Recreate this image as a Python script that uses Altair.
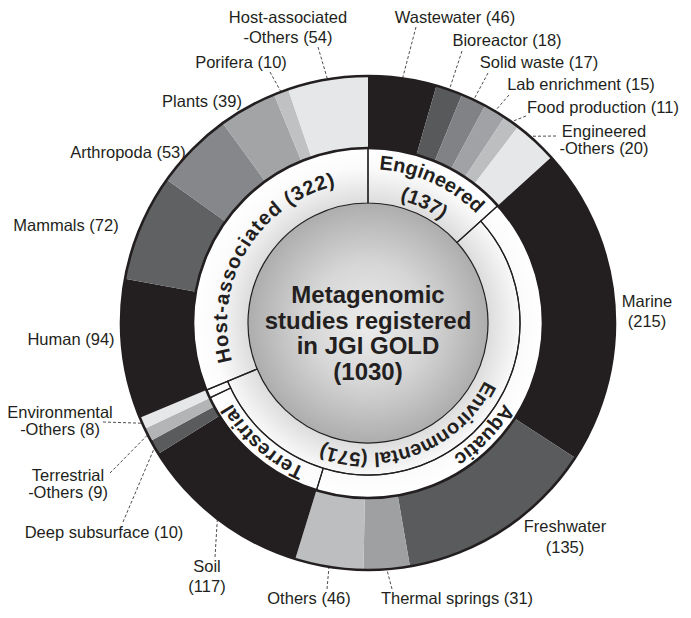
import math
import altair as alt
import pandas as pd

# ---------------- data ----------------
group_names = ["Engineered", "Environmental", "Host-associated"]
group_values = [137, 571, 322]

sub_names = ["Aquatic", "Terrestrial", "Environmental-Others"]   # parts of Environmental
sub_values = [427, 136, 8]

leaf_names = ["Wastewater", "Bioreactor", "Solid waste", "Lab enrichment", "Food production",
              "Engineered-Others", "Marine", "Freshwater", "Thermal springs", "Others",
              "Soil", "Deep subsurface", "Terrestrial-Others", "Environmental-Others",
              "Human", "Mammals", "Arthropoda", "Plants", "Porifera", "Host-associated-Others"]
leaf_values = [46, 18, 17, 15, 11, 20, 215, 135, 31, 46, 117, 10, 9, 8, 94, 72, 53, 39, 10, 54]
leaf_parents = (["Engineered"] * 6 + ["Aquatic"] * 4 + ["Terrestrial"] * 3 +
                ["Environmental-Others"] + ["Host-associated"] * 6)
leaf_display = ["Wastewater", "Bioreactor", "Solid waste", "Lab enrichment", "Food production",
                "Engineered\n-Others", "Marine\n", "Freshwater\n", "Thermal springs", "Others",
                "Soil\n", "Deep subsurface", "Terrestrial\n-Others", "Environmental\n-Others",
                "Human", "Mammals", "Arthropoda", "Plants", "Porifera", "Host-associated\n-Others"]
leaf_colors = ["#231f20", "#58595b", "#808285", "#a0a2a5", "#bcbec0", "#e6e7e8",
               "#231f20", "#5a5b5d", "#9fa0a2", "#bcbec0",
               "#231f20", "#5a5b5d", "#b3b4b6", "#e6e7e8",
               "#231f20", "#606163", "#86878a", "#a3a4a6", "#c0c1c3", "#e6e7e8"]

center_title = "Metagenomic\nstudies registered\nin JGI GOLD"

# ---------------- layout ----------------
BLACK = "#231f20"
FONT = "Liberation Sans"
CX, CY = 360, 315            # centre of the sunburst (view px)
R_CORE, R_SPLIT, R_IN, R_OUT = 120, 152, 175, 247
TOTAL = sum(group_values)
TH = alt.Scale(domain=[0, TOTAL], range=[0, 2 * math.pi])

gv = dict(zip(group_names, group_values))
parent_order = [("Engineered", gv["Engineered"])] + list(zip(sub_names, sub_values)) + \
               [("Host-associated", gv["Host-associated"])]
spans = {}
acc = 0
for n, v in parent_order:
    spans[n] = (acc, acc + v)
    acc += v
env_span = (spans["Aquatic"][0], spans["Environmental-Others"][1])

# inner ring cells
cells = [
    dict(name="Engineered", t0=spans["Engineered"][0], t1=spans["Engineered"][1], ri=R_CORE, ro=R_IN),
    dict(name="Environmental", t0=env_span[0], t1=env_span[1], ri=R_CORE, ro=R_SPLIT),
    dict(name="Aquatic", t0=spans["Aquatic"][0], t1=spans["Aquatic"][1], ri=R_SPLIT, ro=R_IN),
    dict(name="Terrestrial", t0=spans["Terrestrial"][0], t1=spans["Terrestrial"][1], ri=R_SPLIT, ro=R_IN),
    dict(name="Environmental-Others", t0=spans["Environmental-Others"][0],
         t1=spans["Environmental-Others"][1], ri=R_SPLIT, ro=R_IN),
    dict(name="Host-associated", t0=spans["Host-associated"][0], t1=spans["Host-associated"][1],
         ri=R_CORE, ro=R_IN),
]
cells_df = pd.DataFrame(cells)

# outer ring leaves (children fill their parent's span; last child closes it)
leaf_rows = []
cursor = {}
for i, (n, v, p) in enumerate(zip(leaf_names, leaf_values, leaf_parents)):
    s = cursor.get(p, spans[p][0])
    e = s + v
    is_last = (i == len(leaf_names) - 1) or (leaf_parents[i + 1] != p)
    if is_last:
        e = spans[p][1]
    cursor[p] = e
    leaf_rows.append(dict(name=n, t0=s, t1=e, ri=R_IN, ro=R_OUT, mid=(s + s + v) / 2))
leaves_df = pd.DataFrame(leaf_rows)

# ---------------- curved labels ----------------
BOLD_W = {'E': .667, 'H': .722, 'A': .722, 'T': .611, 'n': .611, 'g': .611, 'i': .278, 'e': .556,
          'r': .389, 'd': .611, 'o': .611, 's': .556, 't': .333, '-': .333, 'a': .556, 'c': .556,
          'l': .278, 'q': .611, 'u': .611, 'v': .556, 'm': .889, ' ': .278, '(': .333, ')': .333}
CURVE_SIZE = 20


def curved(text, r, center_deg, track=0.5):
    ws = [BOLD_W.get(c, .556) * CURVE_SIZE + track for c in text]
    tot = sum(ws)
    start = math.radians(center_deg) - tot / 2 / r
    rows, cum = [], 0
    for c, w in zip(text, ws):
        a = start + (cum + w / 2) / r
        cum += w
        if c == " ":
            continue
        rows.append(dict(ch=c, t=a / (2 * math.pi) * TOTAL, r=r, rot=math.degrees(a)))
    return rows


curve_rows = []
curve_rows += curved(group_names[0], 160, 24.5)
curve_rows += curved(f"({group_values[0]})", 133, 25)
curve_rows += curved(f"{group_names[2]} ({group_values[2]})", 147, 300.5, 1.5)
curve_rows += curved(f"{group_names[1]} ({group_values[1]})", 136, 158.5, 0.5)
curve_rows += curved(sub_names[0], 164, 134)
curve_rows += curved(sub_names[1], 164, 221.5)
curve_df = pd.DataFrame(curve_rows)

# ---------------- outer labels ----------------
OFF = 8  # page margin
label_pos = {  # page coords: centre x, first-line y, line height
    "Wastewater": (455, 18, 20), "Bioreactor": (507, 41, 20), "Solid waste": (539, 63, 20),
    "Lab enrichment": (581, 85, 20), "Food production": (603, 108, 20),
    "Engineered-Others": (604, 132, 17), "Marine": (647, 302, 20), "Freshwater": (565, 527, 21),
    "Thermal springs": (457, 599, 20), "Others": (309, 599, 20), "Soil": (207, 567, 20),
    "Deep subsurface": (104, 533, 20), "Terrestrial-Others": (68, 476, 17),
    "Environmental-Others": (60, 413, 17), "Human": (71, 340, 20), "Mammals": (66, 226, 20),
    "Arthropoda": (128, 153, 20), "Plants": (202, 102, 20), "Porifera": (241, 63, 20),
    "Host-associated-Others": (288, 18, 20),
}
leader_start = {  # page coords of the label end of each dashed leader
    "Wastewater": (416, 27), "Bioreactor": (462, 51), "Solid waste": (488, 73),
    "Lab enrichment": (509, 95), "Food production": (526, 116), "Engineered-Others": (556, 136),
    "Thermal springs": (392, 589), "Others": (327, 589), "Soil": (215, 557),
    "Deep subsurface": (123, 522), "Terrestrial-Others": (110, 473),
    "Environmental-Others": (103, 422), "Porifera": (270, 72), "Host-associated-Others": (318, 47),
}

lab_rows = []
for n, d, v in zip(leaf_names, leaf_display, leaf_values):
    txt = d + ("" if d.endswith("\n") else " ") + f"({v})"
    x, y, lh = label_pos[n]
    for k, line in enumerate(txt.split("\n")):
        lab_rows.append(dict(txt=line, x=x - OFF, y=y - OFF + k * lh))
labels_df = pd.DataFrame(lab_rows)

line_rows = []
for row in leaf_rows:
    n = row["name"]
    if n not in leader_start:
        continue
    sx, sy = leader_start[n]
    a = row["mid"] / TOTAL * 2 * math.pi
    ex, ey = CX + R_OUT * math.sin(a), CY - R_OUT * math.cos(a)
    line_rows.append(dict(name=n, o=0, x=sx - OFF, y=sy - OFF))
    line_rows.append(dict(name=n, o=1, x=ex, y=ey))
lines_df = pd.DataFrame(line_rows)


# ---------------- chart ----------------
def arc_enc(ch):
    return ch.encode(
        theta=alt.Theta("t0:Q", scale=TH, stack=False),
        theta2="t1:Q",
        radius=alt.Radius("ro:Q", scale=None),
        radius2="ri:Q",
        x=alt.value(CX), y=alt.value(CY),
    )


ring_bg = arc_enc(alt.Chart(pd.DataFrame([dict(t0=0, t1=TOTAL, ri=R_CORE - 2, ro=R_IN + 1)])).mark_arc(
    fill=alt.RadialGradient(gradient="radial", x1=0.5, y1=0.5, r1=0, x2=0.5, y2=0.5, r2=0.5,
                            stops=[alt.GradientStop(offset=0.66, color="#d9d9d9"),
                                   alt.GradientStop(offset=0.88, color="#fbfbfb"),
                                   alt.GradientStop(offset=1, color="#ffffff")])))
core = arc_enc(alt.Chart(pd.DataFrame([dict(t0=0, t1=TOTAL, ri=0, ro=R_CORE)])).mark_arc(
    fill=alt.RadialGradient(gradient="radial", x1=0.5, y1=0.5, r1=0, x2=0.5, y2=0.5, r2=0.5,
                            stops=[alt.GradientStop(offset=0, color="#ececec"),
                                   alt.GradientStop(offset=0.5, color="#d6d6d6"),
                                   alt.GradientStop(offset=1, color="#adadad")])))
leaves = arc_enc(alt.Chart(leaves_df).mark_arc(strokeWidth=0)).encode(
    color=alt.Color("name:N", scale=alt.Scale(domain=leaf_names, range=leaf_colors), legend=None))
cell_lines = arc_enc(alt.Chart(cells_df).mark_arc(fill="white", fillOpacity=0, stroke=BLACK,
                                                   strokeWidth=1.2))
outline = arc_enc(alt.Chart(pd.DataFrame([dict(t0=0, t1=TOTAL, ri=R_IN, ro=R_OUT)])).mark_arc(
    fill="white", fillOpacity=0, stroke=BLACK, strokeWidth=2.6))

curve_text = alt.Chart(curve_df).mark_text(
    font=FONT, fontSize=CURVE_SIZE, fontWeight="bold", color=BLACK, align="center", baseline="middle"
).encode(
    text="ch:N",
    theta=alt.Theta("t:Q", scale=TH, stack=False),
    radius=alt.Radius("r:Q", scale=None),
    angle=alt.Angle("rot:Q", scale=None),
    x=alt.value(CX), y=alt.value(CY),
)

center_text = alt.Chart(pd.DataFrame([dict(t=f"{center_title}\n({TOTAL})")])).mark_text(
    font=FONT, fontSize=24, fontWeight="bold", color=BLACK, lineBreak="\n", lineHeight=25.5,
    align="center", baseline="middle"
).encode(text="t:N", x=alt.value(CX), y=alt.value(CY - 27))

leaders = alt.Chart(lines_df).mark_line(color=BLACK, strokeWidth=0.8, strokeDash=[3, 2]).encode(
    x=alt.X("x:Q", scale=None, axis=None),
    y=alt.Y("y:Q", scale=None, axis=None),
    detail="name:N", order="o:Q",
)

labels = alt.Chart(labels_df).mark_text(
    font=FONT, fontSize=16.5, color=BLACK, align="center", baseline="middle"
).encode(
    text="txt:N",
    x=alt.X("x:Q", scale=None, axis=None),
    y=alt.Y("y:Q", scale=None, axis=None),
)

chart = alt.layer(ring_bg, core, leaves, cell_lines, outline, curve_text, center_text,
                  leaders, labels).properties(
    width=673, height=600, padding=0, autosize="none", background="white"
).configure_view(stroke=None)

chart.save("out.html", embed_options={"renderer": "svg", "actions": False})
